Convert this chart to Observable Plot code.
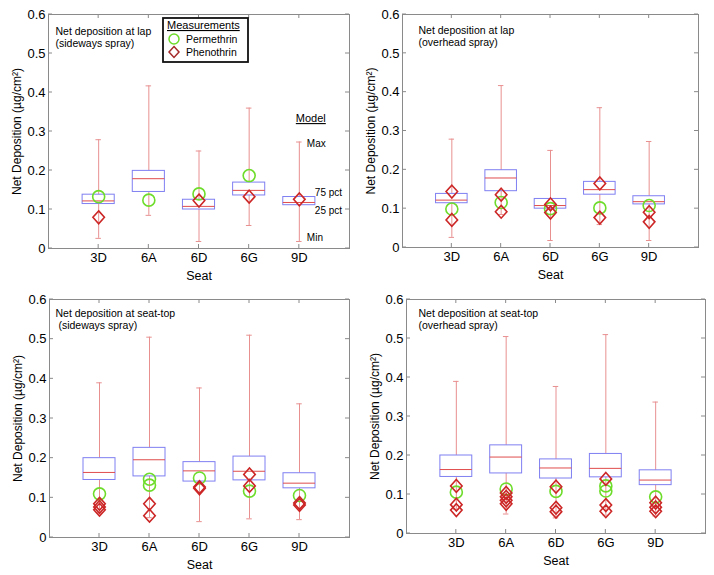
<!DOCTYPE html>
<html><head><meta charset="utf-8">
<script src="https://cdn.jsdelivr.net/npm/d3@7"></script>
<script src="https://cdn.jsdelivr.net/npm/@observablehq/plot@0.6"></script>
<style>
body{margin:0;background:#fff;}
#wrap{position:relative;width:714px;height:575px;overflow:hidden;}
.panel{position:absolute;}
</style></head><body><div id="wrap"></div>
<script>
const seats = ["3D","6A","6D","6G","9D"];
const yTicks = [0, 0.1, 0.2, 0.3, 0.4, 0.5, 0.6];
const xTicks = [1, 2, 3, 4, 5];

// Model (box plot) at lap
const lapMin = [0.026, 0.085, 0.018, 0.059, 0.018];
const lapQ25 = [0.114, 0.145, 0.100, 0.136, 0.111];
const lapMed = [0.122, 0.179, 0.108, 0.149, 0.118];
const lapQ75 = [0.138, 0.199, 0.125, 0.169, 0.132];
const lapMax = [0.279, 0.417, 0.250, 0.360, 0.273];
// Model at seat-top
const topMin = [0.062, 0.050, 0.040, 0.047, 0.045];
const topQ25 = [0.145, 0.154, 0.141, 0.144, 0.124];
const topMed = [0.164, 0.196, 0.168, 0.167, 0.137];
const topQ75 = [0.200, 0.226, 0.190, 0.204, 0.162];
const topMax = [0.390, 0.505, 0.377, 0.510, 0.337];

// Measurements [seat, value]
const lapSidePer = [["3D",0.133],["6A",0.124],["6D",0.140],["6G",0.187]];
const lapSidePhe = [["3D",0.080],["6D",0.123],["6G",0.133],["9D",0.126]];
const lapOverPer = [["3D",0.099],["6A",0.116],["6D",0.100],["6G",0.102],["9D",0.108]];
const lapOverPhe = [["3D",0.144],["3D",0.071],["6A",0.136],["6A",0.092],["6D",0.111],["6D",0.090],["6G",0.165],["6G",0.077],["9D",0.091],["9D",0.066]];
const topSidePer = [["3D",0.110],["6A",0.147],["6A",0.132],["6D",0.150],["6G",0.117],["9D",0.106]];
const topSidePhe = [["3D",0.085],["3D",0.077],["3D",0.070],["6A",0.085],["6A",0.055],["6D",0.127],["6D",0.124],["6G",0.159],["6G",0.130],["9D",0.087],["9D",0.082]];
const topOverPer = [["3D",0.106],["6A",0.114],["6D",0.108],["6G",0.122],["6G",0.109],["9D",0.094]];
const topOverPhe = [["3D",0.122],["3D",0.074],["3D",0.060],["6A",0.104],["6A",0.094],["6A",0.085],["6A",0.076],["6D",0.120],["6D",0.066],["6D",0.056],["6G",0.140],["6G",0.073],["6G",0.057],["9D",0.079],["9D",0.067],["9D",0.057]];

const titles = [
  "Net deposition at lap\n(sideways spray)",
  "Net deposition at lap\n(overhead spray)",
  "Net deposition at seat-top\n (sideways spray)",
  "Net deposition at seat-top\n(overhead spray)"
];
const legendTitle = "Measurements";
const legendNames = ["Permethrin", "Phenothrin"];
const modelTitle = "Model";
const modelLabels = ["Max", "75 pct", "25 pct", "Min"];
const xLabel = "Seat";
const yLabel = "Net Deposition (µg/cm²)";

const FONT = "'Liberation Sans', Arial, Helvetica, sans-serif";
const C_BOX = "#7f7ff2", C_MED = "#e04c4c", C_WHISK = "#e89090";
const C_PER = "#6ddc2a", C_PHE = "#cc2626", C_FRAME = "#8a8a8a";

const diamond = {draw(ctx, size) {
  const h = Math.sqrt(size / Math.PI), w = h * 0.9;
  ctx.moveTo(0, -h); ctx.lineTo(w, 0); ctx.lineTo(0, h); ctx.lineTo(-w, 0); ctx.closePath();
}};

function innerTicks(len) {
  return (index, {x, y}, values, dims) => {
    const g = d3.create("svg:g").attr("stroke", C_FRAME).attr("stroke-width", 1);
    const L = dims.marginLeft, R = dims.width - dims.marginRight;
    const T = dims.marginTop, B = dims.height - dims.marginBottom;
    for (const t of yTicks) {
      const py = y(t);
      g.append("line").attr("x1", L).attr("x2", L + len).attr("y1", py).attr("y2", py);
      g.append("line").attr("x1", R).attr("x2", R - len).attr("y1", py).attr("y2", py);
    }
    for (const t of xTicks) {
      const px = x(t);
      g.append("line").attr("x1", px).attr("x2", px).attr("y1", B).attr("y2", B - len);
      g.append("line").attr("x1", px).attr("x2", px).attr("y1", T).attr("y2", T + len);
    }
    return g.node();
  };
}

function legendMark() {
  const g = d3.create("svg:g").attr("font-family", FONT).attr("fill", "#000").attr("text-anchor", "start");
  g.append("rect").attr("x", 163).attr("y", 18).attr("width", 85).attr("height", 44)
    .attr("fill", "white").attr("stroke", "#111").attr("stroke-width", 1.8);
  g.append("text").attr("x", 167).attr("y", 29).attr("font-size", 11)
    .attr("text-decoration", "underline").text(legendTitle);
  g.append("circle").attr("cx", 174).attr("cy", 39).attr("r", 5).attr("fill", "none")
    .attr("stroke", C_PER).attr("stroke-width", 1.5);
  g.append("path").attr("d", "M174,46.5L179,52L174,57.5L169,52Z").attr("fill", "none")
    .attr("stroke", "#a52a2a").attr("stroke-width", 1.5);
  g.append("text").attr("x", 186).attr("y", 42.5).attr("font-size", 10.5).text(legendNames[0]);
  g.append("text").attr("x", 186).attr("y", 55.5).attr("font-size", 10.5).text(legendNames[1]);
  return g.node();
}

function modelAnnotation(r) {
  return (index, {x, y}) => {
    const g = d3.create("svg:g").attr("font-family", FONT).attr("font-size", 10)
      .attr("fill", "#000").attr("text-anchor", "start");
    const ann = [
      {t: modelLabels[0], v: r.max, dx: 8, dy: 2},
      {t: modelLabels[1], v: r.q75, dx: 16, dy: -4},
      {t: modelLabels[2], v: r.q25, dx: 16, dy: 6},
      {t: modelLabels[3], v: r.min, dx: 8, dy: -3}
    ];
    for (const a of ann) {
      g.append("text").attr("x", x(r.i) + a.dx).attr("y", y(a.v) + a.dy).attr("dy", "0.32em").text(a.t);
    }
    g.append("text").attr("x", x(r.i) - 3).attr("y", y(r.max) - 23).attr("dy", "0.32em")
      .attr("font-size", 11).attr("text-decoration", "underline").text(modelTitle);
    return g.node();
  };
}

function panel(cfg) {
  const m = cfg.model;
  const rows = seats.map((s, k) => ({i: k + 1, min: m[0][k], q25: m[1][k], med: m[2][k], q75: m[3][k], max: m[4][k]}));
  const toPts = arr => arr.map(([s, v]) => ({i: seats.indexOf(s) + 1, v}));
  const per = toPts(cfg.per), phe = toPts(cfg.phe);
  const hb = 0.32, hc = 0.055;
  const marks = [
    Plot.ruleX(rows, {x: "i", y1: "min", y2: "max", stroke: C_WHISK, strokeWidth: 1}),
    Plot.ruleY(rows, {x1: d => d.i - hc, x2: d => d.i + hc, y: "min", stroke: C_WHISK}),
    Plot.ruleY(rows, {x1: d => d.i - hc, x2: d => d.i + hc, y: "max", stroke: C_WHISK}),
    Plot.rect(rows, {x1: d => d.i - hb, x2: d => d.i + hb, y1: "q25", y2: "q75", fill: "white", stroke: C_BOX, strokeWidth: 1}),
    Plot.ruleY(rows, {x1: d => d.i - hb, x2: d => d.i + hb, y: "med", stroke: C_MED, strokeWidth: 1}),
    Plot.dot(per, {x: "i", y: "v", r: 6, stroke: C_PER, strokeWidth: 1.6}),
    Plot.dot(phe, {x: "i", y: "v", r: 6.4, symbol: diamond, stroke: C_PHE, strokeWidth: 1.6}),
    Plot.text([cfg.title], {text: d => d, frameAnchor: "top-left", dx: cfg.tdx, dy: cfg.tdy, lineAnchor: "top", textAnchor: "start", fontSize: 10.5, lineHeight: 1.12}),
    Plot.frame({stroke: C_FRAME}),
    innerTicks(4),
    Plot.axisY({ticks: yTicks, tickFormat: d => String(d), tickSize: 0, tickPadding: 3, fontSize: 13, label: null}),
    Plot.axisY({ticks: [], tickSize: 0, fontSize: 12, label: yLabel, labelAnchor: "center", labelArrow: "none", labelOffset: 36}),
    Plot.axisX({ticks: xTicks, tickFormat: i => seats[i - 1], tickSize: 0, tickPadding: 4, fontSize: 13, label: null}),
    Plot.axisX({ticks: [], tickSize: 0, fontSize: 12.5, label: xLabel, labelAnchor: "center", labelArrow: "none", labelOffset: 31})
  ];
  if (cfg.legend) {
    marks.push(modelAnnotation(rows[4]));
    marks.push(legendMark);
  }
  return Plot.plot({
    width: 357, height: 290,
    marginLeft: cfg.ml, marginRight: cfg.mr, marginTop: 14, marginBottom: cfg.mb,
    style: {fontFamily: FONT, fontSize: "12.5px", color: "#000", background: "white", overflow: "visible"},
    x: {domain: [0, 6]},
    y: {domain: [0, 0.6]},
    marks
  });
}

const cfgs = [
  {left: 0, top: 0, ml: 48, mr: 8, mb: 42, model: [lapMin, lapQ25, lapMed, lapQ75, lapMax], per: lapSidePer, phe: lapSidePhe, title: titles[0], tdx: 7, tdy: 12, legend: true},
  {left: 357, top: 0, ml: 45, mr: 16, mb: 43, model: [lapMin, lapQ25, lapMed, lapQ75, lapMax], per: lapOverPer, phe: lapOverPhe, title: titles[1], tdx: 16, tdy: 11},
  {left: 0, top: 285, ml: 49, mr: 8, mb: 38, model: [topMin, topQ25, topMed, topQ75, topMax], per: topSidePer, phe: topSidePhe, title: titles[2], tdx: 6, tdy: 9},
  {left: 357, top: 285, ml: 49, mr: 9, mb: 42, model: [topMin, topQ25, topMed, topQ75, topMax], per: topOverPer, phe: topOverPhe, title: titles[3], tdx: 12, tdy: 9}
];

const wrap = document.getElementById("wrap");
for (const c of cfgs) {
  const div = document.createElement("div");
  div.className = "panel";
  div.style.left = c.left + "px";
  div.style.top = c.top + "px";
  div.appendChild(panel(c));
  wrap.appendChild(div);
}
</script></body></html>
